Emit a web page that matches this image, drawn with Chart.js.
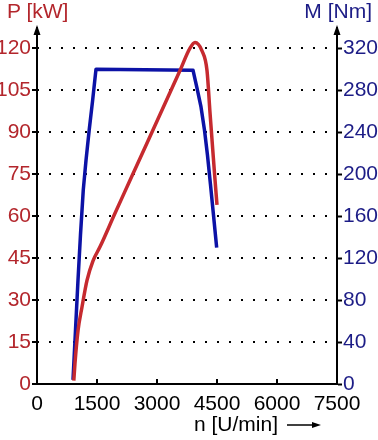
<!DOCTYPE html>
<html>
<head>
<meta charset="utf-8">
<script src="https://cdn.jsdelivr.net/npm/chart.js@4/dist/chart.umd.min.js"></script>
<style>
  html, body { margin: 0; padding: 0; background: #fff; }
  #wrap { position: relative; width: 378px; height: 440px; overflow: hidden; }
  #wrap canvas { position: absolute; left: 0; top: 0; }
  .lbl { position: absolute; font-family: Arial, "Liberation Sans", sans-serif; font-size: 21px; line-height: 21px; white-space: nowrap; }
</style>
</head>
<body>
<div id="wrap">
  <canvas id="c" width="378" height="440"></canvas>
  <div class="lbl" style="left:7px; top:0px; color:#b3262c;">P [kW]</div>
  <div class="lbl" style="right:6px; top:0px; color:#1c1c86;">M [Nm]</div>
  <div class="lbl" style="left:194px; top:413px; color:#000;">n [U/min]</div>
  <svg style="position:absolute; left:285px; top:418px;" width="40" height="14">
    <line x1="2" y1="7" x2="30" y2="7" stroke="#000" stroke-width="1.5"/>
    <polygon points="36,7 27,4 27,10" fill="#000"/>
  </svg>
</div>
<script>
// Power curve P [kW] vs engine speed n [U/min]
const powerRpm = [920, 950, 1025, 1125, 1250, 1400, 1575, 1950, 2300, 3575, 3825, 3950, 4125, 4250, 4325, 4400, 4450, 4500];
const powerKW  = [1.2, 7.5, 19, 27.5, 37, 44, 49, 61, 72, 112, 120, 122, 119, 112, 97, 82.5, 73, 64];

// Torque curve M [Nm] vs engine speed n [U/min]
const torqueRpm = [900, 962, 1025, 1087, 1157, 1225, 1305, 1390, 1475, 3900, 4000, 4100, 4187, 4262, 4337, 4412, 4492];
const torqueNm  = [4, 51, 99, 142, 185, 213, 242, 270, 300, 299, 282, 264, 242, 218, 190, 161, 130];

// Axis ticks
const rpmTicks = [0, 1500, 3000, 4500, 6000, 7500];
const kwTicks  = [0, 15, 30, 45, 60, 75, 90, 105, 120];
const nmTicks  = [0, 40, 80, 120, 160, 200, 240, 280, 320];

const RED = '#c62a2f';
const BLUE = '#0c12a6';
const RED_TXT = '#b3262c';
const BLUE_TXT = '#1c1c86';
const FONT = { family: 'Arial, "Liberation Sans", sans-serif', size: 21 };

const kwMax = 127.2;
const nmMax = kwMax * (nmTicks[nmTicks.length - 1] / kwTicks[kwTicks.length - 1]);

const deco = {
  id: 'deco',
  afterDraw(chart) {
    const { ctx, chartArea: a, scales } = chart;
    ctx.save();
    ctx.fillStyle = '#000';
    [a.left, a.right].forEach(x => {
      ctx.beginPath();
      ctx.moveTo(x, a.top - 3);
      ctx.lineTo(x - 3.5, a.top + 7);
      ctx.lineTo(x + 3.5, a.top + 7);
      ctx.closePath();
      ctx.fill();
    });
    ctx.strokeStyle = '#000';
    ctx.lineWidth = 2;
    rpmTicks.forEach(v => {
      const x = Math.round(scales.x.getPixelForValue(v));
      ctx.beginPath();
      ctx.moveTo(x, a.bottom);
      ctx.lineTo(x, a.bottom - 5);
      ctx.stroke();
    });
    ctx.restore();
  }
};

new Chart(document.getElementById('c'), {
  type: 'line',
  data: {
    datasets: [
      {
        label: 'P',
        data: powerRpm.map((x, i) => ({ x, y: powerKW[i] })),
        yAxisID: 'yP',
        borderColor: RED,
        borderWidth: 3.5,
        pointRadius: 0,
        cubicInterpolationMode: 'monotone',
        fill: false
      },
      {
        label: 'M',
        data: torqueRpm.map((x, i) => ({ x, y: torqueNm[i] })),
        yAxisID: 'yM',
        borderColor: BLUE,
        borderWidth: 3.5,
        pointRadius: 0,
        tension: 0,
        borderJoinStyle: 'round',
        fill: false
      }
    ]
  },
  options: {
    responsive: false,
    animation: false,
    events: [],
    layout: { padding: { top: 28, left: 0, right: 0, bottom: 0 } },
    plugins: { legend: { display: false }, tooltip: { enabled: false } },
    scales: {
      x: {
        type: 'linear',
        min: 0, max: 7500,
        afterBuildTicks: s => { s.ticks = rpmTicks.map(v => ({ value: v })); },
        afterFit: s => { s.height = 56; },
        ticks: { color: '#000', font: FONT, padding: 0, maxRotation: 0, autoSkip: false, callback: v => String(v) },
        grid: { display: false },
        border: { display: true, color: '#000', width: 2 }
      },
      yP: {
        type: 'linear',
        position: 'left',
        min: 0, max: kwMax,
        afterFit: s => { s.width = 37; },
        ticks: {
          stepSize: 7.5,
          includeBounds: false,
          color: RED_TXT,
          font: FONT,
          padding: 1,
          callback: v => (kwTicks.includes(v) ? String(v) : '')
        },
        grid: {
          display: true,
          color: '#000',
          lineWidth: 2,
          drawTicks: true,
          tickLength: 5,
          tickWidth: 2,
          tickColor: ctx => (ctx.tick && kwTicks.includes(ctx.tick.value) ? '#000' : 'rgba(0,0,0,0)')
        },
        border: { display: true, color: '#000', width: 2, dash: [2, 10], dashOffset: 1 }
      },
      yM: {
        type: 'linear',
        position: 'right',
        min: 0, max: nmMax,
        afterFit: s => { s.width = 41; },
        afterBuildTicks: s => { s.ticks = nmTicks.map(v => ({ value: v })); },
        ticks: { color: BLUE_TXT, font: FONT, padding: 1 },
        grid: { display: true, drawOnChartArea: false, drawTicks: true, tickLength: 5, tickWidth: 2, tickColor: '#000' },
        border: { display: true, color: '#000', width: 2 }
      }
    }
  },
  plugins: [deco]
});
</script>
</body>
</html>
